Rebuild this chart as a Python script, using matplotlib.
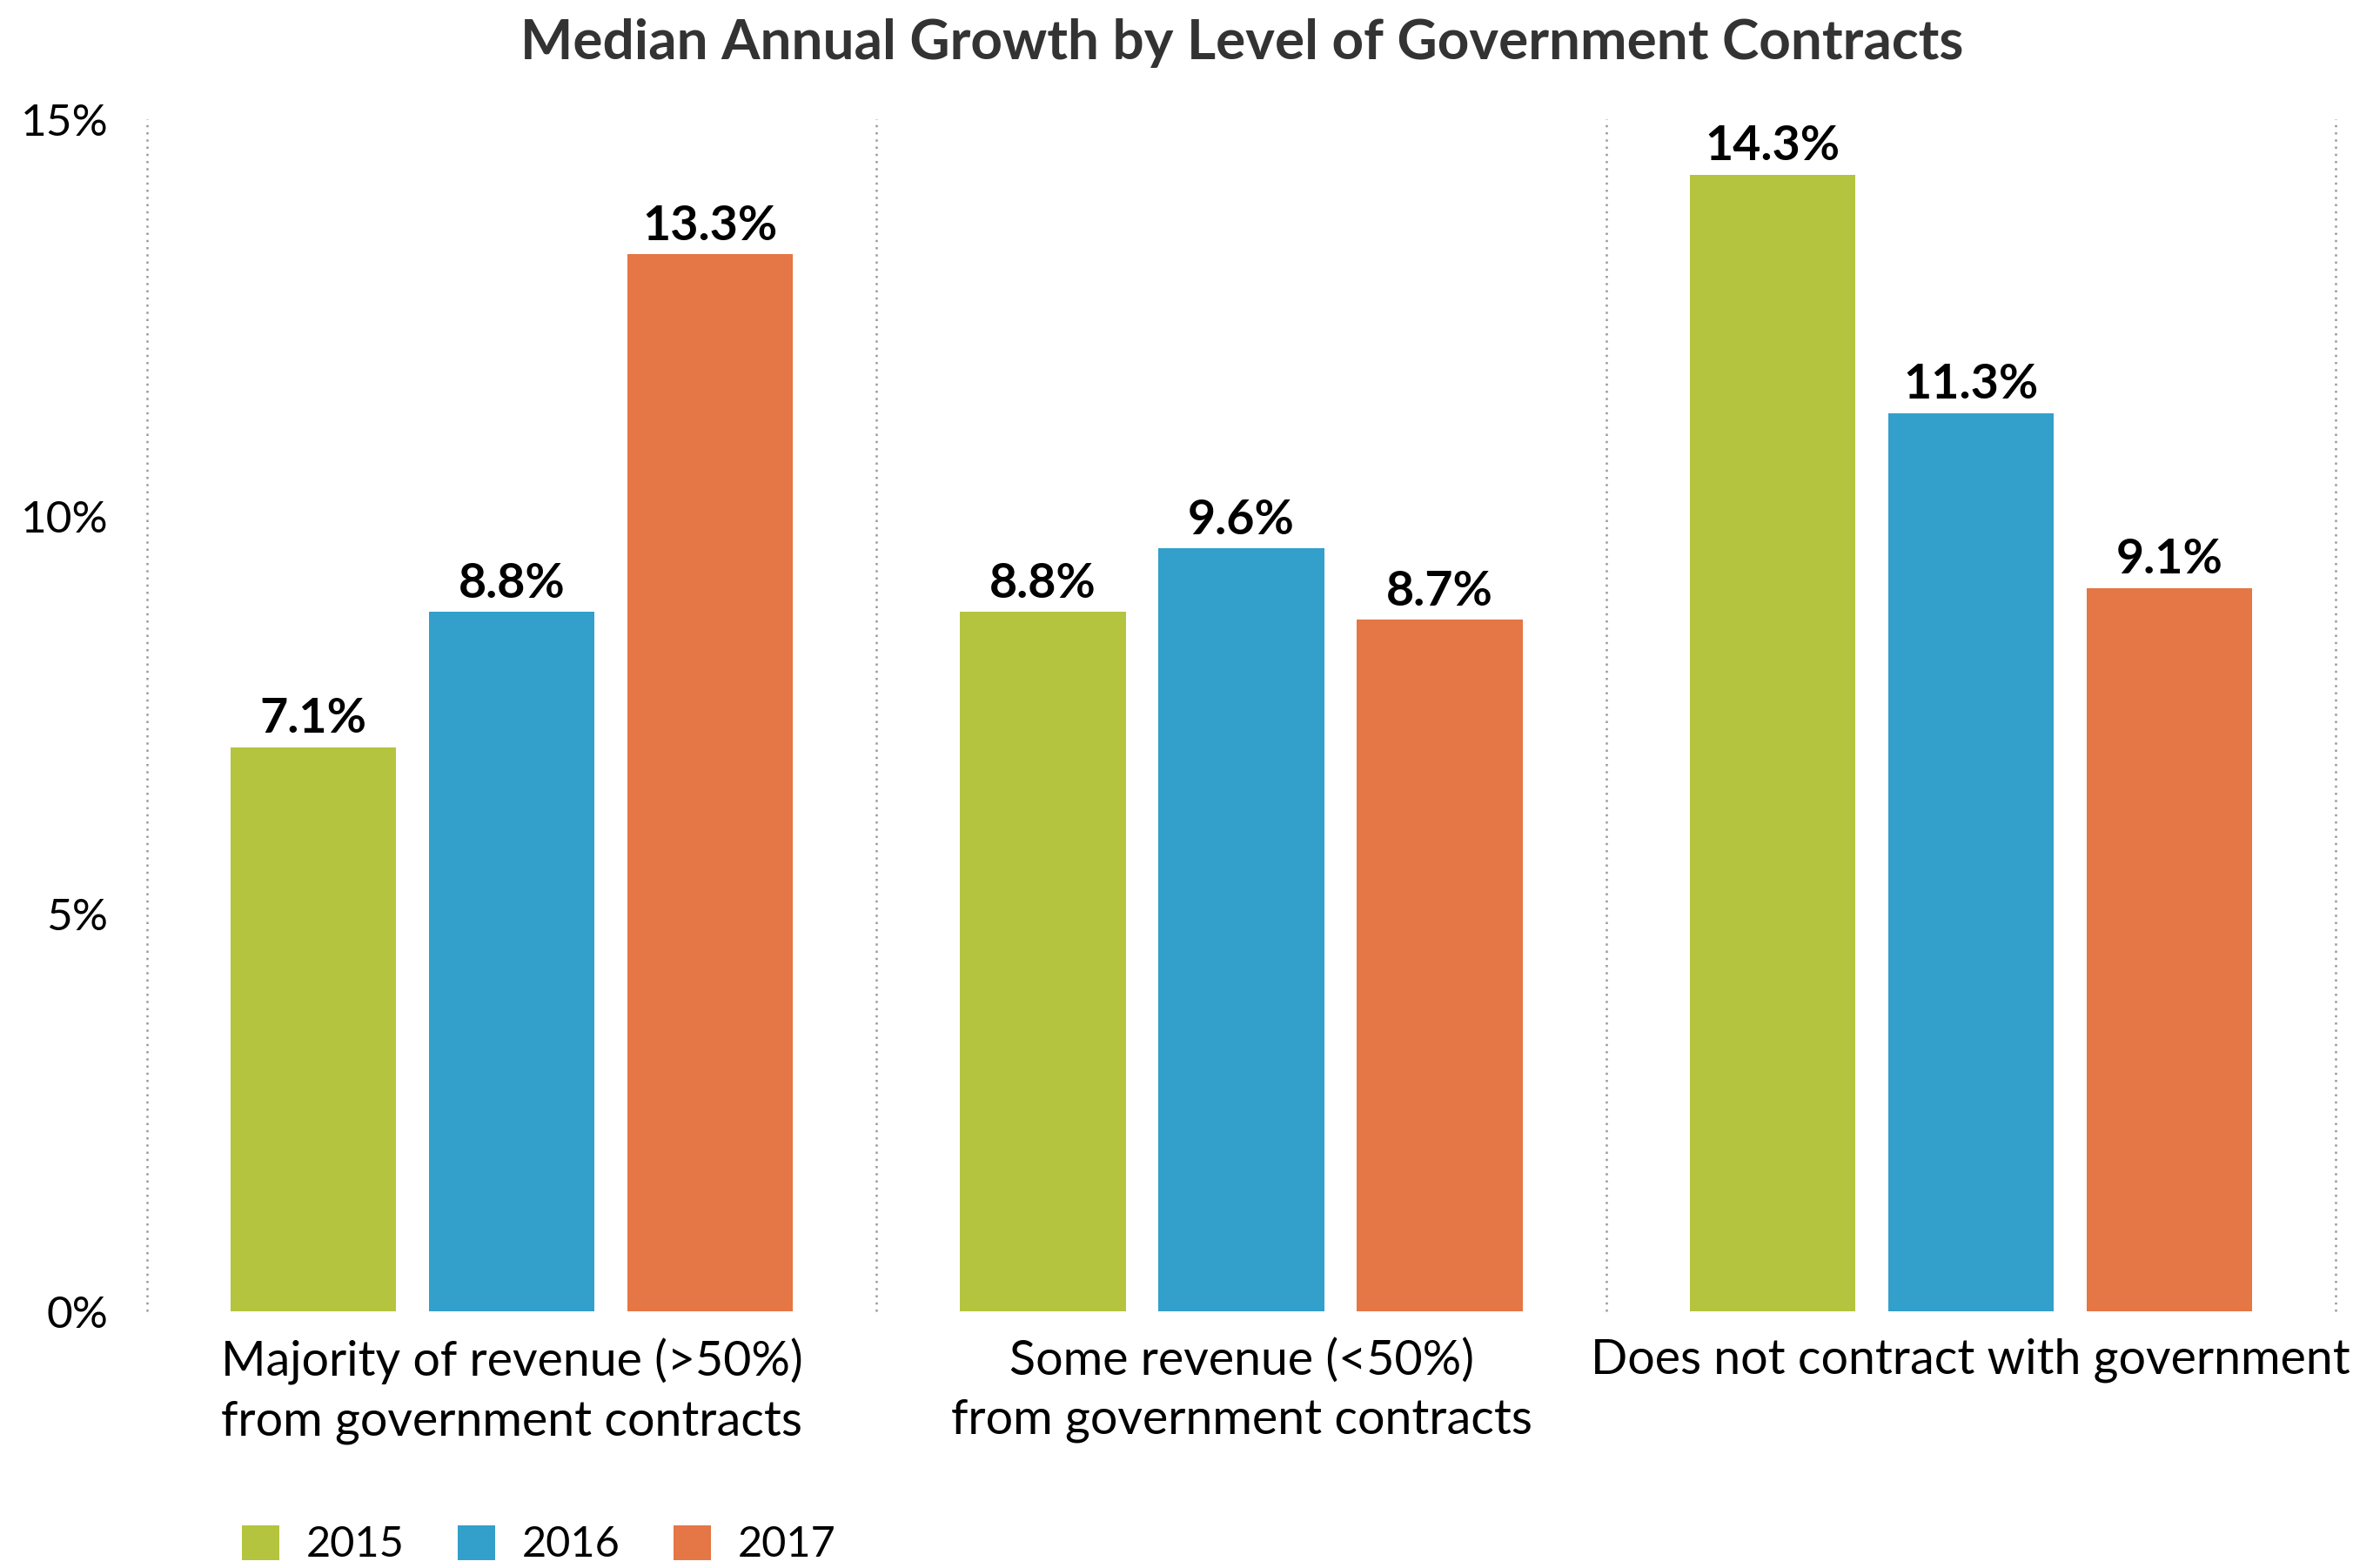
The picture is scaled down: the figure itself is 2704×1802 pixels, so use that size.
import matplotlib
matplotlib.use("Agg")
import matplotlib.pyplot as plt
from matplotlib.patches import Patch
import numpy as np

plt.rcParams["font.family"] = ["Lato", "DejaVu Sans"]

categories = [
    "Majority of revenue (>50%)\nfrom government contracts",
    "Some revenue (<50%)\nfrom government contracts",
    "Does not contract with government",
]
years = ["2015", "2016", "2017"]
growth_2015 = [7.1, 8.8, 14.3]
growth_2016 = [8.8, 9.6, 11.3]
growth_2017 = [13.3, 8.7, 9.1]
series = [growth_2015, growth_2016, growth_2017]
colors = ["#B4C43F", "#339FCB", "#E57645"]

W, H = 2704, 1802
fig = plt.figure(figsize=(W / 100, H / 100), dpi=100)
ax = fig.add_axes([169 / W, 1 - 1507 / H, (2684 - 169) / W, (1507 - 137) / H])

x = np.arange(len(categories))
step = 0.272
width = 0.227
for i, (vals, col) in enumerate(zip(series, colors)):
    xs = x + (i - 1) * step
    ax.bar(xs, vals, width=width, color=col, zorder=2)
    for xi, v in zip(xs, vals):
        ax.annotate(f"{v}%", (xi, v), xytext=(0, 12), textcoords="offset points",
                    ha="center", va="baseline", fontsize=40, fontweight="bold", color="black")

# dotted separators between groups
ax.vlines(np.arange(-0.5, len(categories), 1.0), 0, 15, colors="#9a9a9a",
          linewidth=1.8, linestyles=(0, (1, 2.3)), clip_on=False, zorder=1)

ax.set_xlim(-0.5, 2.5)
ax.set_ylim(0, 15)
ax.set_yticks([0, 5, 10, 15])
ax.set_yticklabels(["0%", "5%", "10%", "15%"], fontsize=37, color="black")
ax.set_xticks(x)
ax.set_xticklabels(categories, fontsize=40, linespacing=1.42, color="black")
ax.tick_params(axis="y", length=0, pad=32)
ax.tick_params(axis="x", length=0, pad=22)
for s in ax.spines.values():
    s.set_visible(False)

fig.text(1427 / W, 1 - 68 / H, "Median Annual Growth by Level of Government Contracts",
         ha="center", va="baseline", fontsize=46, fontweight="bold", color="#333333")

handles = [Patch(facecolor=c, edgecolor="none") for c in colors]
fig.legend(handles, years, loc="center left", bbox_to_anchor=(278 / W, 1 - 1775 / H), ncol=3,
           frameon=False, fontsize=35, handlelength=0.885, handleheight=0.885,
           handletextpad=0.64, columnspacing=1.25, borderpad=0, borderaxespad=0)

fig.savefig("out.png", dpi=100, facecolor="white")
